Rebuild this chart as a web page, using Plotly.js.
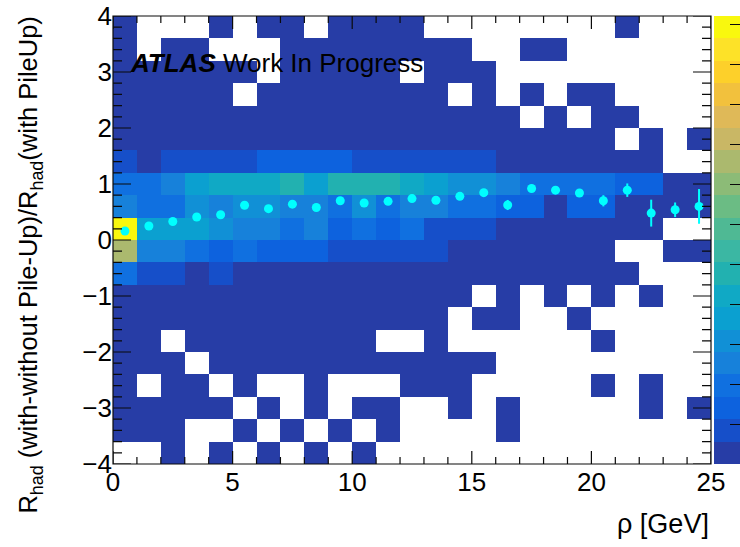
<!DOCTYPE html>
<html>
<head>
<meta charset="utf-8">
<script src="https://cdn.plot.ly/plotly-3.0.1.min.js"></script>
<style>html,body{margin:0;padding:0;background:#fff;}#chart{width:740px;height:547px;}</style>
</head>
<body>
<div id="chart"></div>
<script>
// bin centres
const xCenters = [0.5,1.5,2.5,3.5,4.5,5.5,6.5,7.5,8.5,9.5,10.5,11.5,12.5,13.5,14.5,15.5,16.5,17.5,18.5,19.5,20.5,21.5,22.5,23.5,24.5];
const yCenters = [3.8,3.4,3.0,2.6,2.2,1.8,1.4,1.0,0.6,0.2,-0.2,-0.6,-1.0,-1.4,-1.8,-2.2,-2.6,-3.0,-3.4,-3.8];
const n = null;
// counts per cell, rows from top (y=3.8) to bottom (y=-3.8), columns rho = 0..25
const counts = [
  [1,n,n,n,1,n,1,1,n,1,1,1,1,n,n,n,n,n,n,n,n,1,n,n,n],
  [1,n,1,1,n,n,n,1,1,1,1,1,1,1,1,n,n,1,1,n,n,n,n,n,n],
  [1,1,1,1,1,1,n,1,1,1,1,1,n,1,1,1,n,n,n,n,n,n,n,n,n],
  [1,1,1,1,1,n,1,1,1,1,1,1,1,1,n,1,n,1,n,1,1,n,n,n,n],
  [1,1,1,1,1,1,1,1,1,1,1,1,1,1,1,1,1,n,1,n,1,1,n,n,n],
  [1,1,1,1,1,1,1,1,1,1,1,1,1,1,1,1,1,1,1,1,1,n,1,n,1],
  [4,1,4,4,4,4,7,7,7,7,4,4,4,4,4,4,1,1,1,1,1,1,1,n,n],
  [10,10,13,18,21,21,21,24,18,24,24,24,21,18,15,15,13,10,10,10,10,7,7,1,1],
  [13,10,10,15,13,15,15,13,13,10,15,10,13,13,10,10,7,7,1,7,7,1,1,1,1],
  [56,18,18,18,15,13,13,10,13,7,10,7,10,4,4,4,1,1,1,1,1,1,1,n,n],
  [38,13,13,10,7,10,7,7,7,4,4,4,4,4,1,1,1,1,1,1,1,n,n,1,1],
  [10,4,4,1,4,1,1,1,1,1,1,1,1,1,1,1,1,1,1,1,1,1,n,n,n],
  [1,1,1,1,1,1,1,1,1,1,1,1,1,1,1,n,1,n,1,n,1,n,1,n,n],
  [1,1,1,1,1,1,1,1,1,1,1,1,1,1,n,1,1,n,n,1,n,n,n,n,n],
  [1,1,n,1,1,1,1,1,1,1,1,n,n,1,n,n,n,n,n,n,1,n,n,n,n],
  [1,1,1,n,1,1,1,1,1,1,1,1,1,1,1,1,n,n,n,n,n,n,n,n,n],
  [1,n,1,1,n,1,n,n,1,n,n,n,1,1,1,n,n,n,n,n,1,n,1,n,n],
  [1,1,1,1,1,n,1,n,1,n,1,1,n,n,1,n,1,n,n,n,n,n,1,n,1],
  [1,1,1,n,n,1,n,1,n,1,n,1,n,n,n,n,1,n,n,n,n,n,n,n,n],
  [n,n,1,n,1,n,1,n,1,n,1,n,n,n,n,n,n,n,n,n,n,n,n,n,n]
];
// profile (mean per rho bin)
const profX = xCenters;
const profY = [0.16,0.25,0.33,0.41,0.45,0.62,0.56,0.64,0.58,0.70,0.66,0.69,0.74,0.71,0.78,0.845,0.625,0.92,0.89,0.84,0.70,0.89,0.48,0.54,0.60];
const profErr = [0.02,0.02,0.02,0.02,0.02,0.02,0.02,0.02,0.02,0.02,0.02,0.02,0.02,0.03,0.03,0.03,0.09,0.04,0.04,0.04,0.1,0.12,0.24,0.13,0.31];

const bandColors = ['#273da6','#164fc9','#0d62de','#1070e0','#1781da','#1190d6','#0ba0d0','#10a9c5','#22b1b0','#3bb7a3','#4fb994','#6bbc84','#8cbb77','#abb96e','#c9b765','#dfb958','#f2c13d','#fdd02a','#fde228','#f9f80e'];
const colorscale = [];
bandColors.forEach((c, i) => {
  colorscale.push([i / bandColors.length, c]);
  colorscale.push([(i + 1) / bandColors.length, c]);
});

const FONT = 'Liberation Sans, Arial, Helvetica, sans-serif';
const X_RANGE = [0, 25];
const Y_RANGE = [-4, 4];
const MARGIN = {l: 113, r: 29, t: 16, b: 83};
const PLOT_W = 740 - MARGIN.l - MARGIN.r;
const PLOT_H = 547 - MARGIN.t - MARGIN.b;
const FRAME = '#0a0a0a';

// axis frame and ROOT-style inside ticks on all four sides: three path shapes built from the axis ranges
function frameAndTicks() {
  let xp = '';
  for (let k = X_RANGE[0]; k <= X_RANGE[1]; k++) {
    const len = ((k % 5 === 0) ? 13 : 7) / PLOT_H;
    xp += `M${k},0L${k},${len}M${k},1L${k},${1 - len}`;
  }
  let yp = '';
  for (let k = 0; k <= 40; k++) {
    const v = +(Y_RANGE[0] + k * 0.2).toFixed(2);
    const len = ((k % 5 === 0) ? 18 : 9) / PLOT_W;
    yp += `M0,${v}L${len},${v}M1,${v}L${1 - len},${v}`;
  }
  return [
    {type: 'rect', xref: 'paper', yref: 'paper', x0: 0, x1: 1, y0: 0, y1: 1,
     line: {color: FRAME, width: 1.2}},
    {type: 'path', xref: 'x', yref: 'paper', path: xp, line: {color: FRAME, width: 1.2}},
    {type: 'path', xref: 'paper', yref: 'y', path: yp, line: {color: FRAME, width: 1.2}}
  ];
}

const heat = {
  type: 'heatmap', x: xCenters, y: yCenters, z: counts,
  zmin: 0, zmax: 56, colorscale: colorscale, zsmooth: false, hoverongaps: false,
  colorbar: {
    x: 1.005, xanchor: 'left', xpad: 0, y: 0.5, yanchor: 'middle', ypad: 0,
    len: 1, lenmode: 'fraction', thickness: 27, thicknessmode: 'pixels', outlinewidth: 0,
    tickmode: 'linear', tick0: 0, dtick: 5,
    ticks: 'inside', ticklen: 11, tickcolor: FRAME, tickwidth: 1, showticklabels: false
  }
};

const prof = {
  type: 'scatter', mode: 'markers', x: profX, y: profY,
  marker: {color: '#00ffff', size: 9, symbol: 'circle'},
  error_y: {type: 'data', array: profErr, visible: true, color: '#00ffff', thickness: 2, width: 0},
  showlegend: false
};

const layout = {
  width: 740, height: 547,
  margin: Object.assign({autoexpand: false}, MARGIN),
  paper_bgcolor: '#ffffff', plot_bgcolor: '#ffffff',
  font: {family: FONT, size: 26, color: '#000'},
  showlegend: false,
  xaxis: {
    range: X_RANGE, tickmode: 'linear', tick0: 0, dtick: 5,
    ticks: '', showline: false, showgrid: false, zeroline: false,
    tickfont: {family: FONT, size: 26}
  },
  yaxis: {
    range: Y_RANGE, tickmode: 'linear', tick0: 0, dtick: 1,
    ticks: '', showline: false, showgrid: false, zeroline: false,
    tickfont: {family: FONT, size: 26}
  },
  shapes: frameAndTicks(),
  annotations: [
    {text: '<b><i>ATLAS</i></b> Work In Progress', xref: 'paper', yref: 'paper',
     x: 15/598, y: 0.895, xanchor: 'left', yanchor: 'middle', showarrow: false,
     font: {family: FONT, size: 26, color: '#000'}},
    {text: 'ρ [GeV]', xref: 'paper', yref: 'paper', x: 1, y: -0.134,
     xanchor: 'right', yanchor: 'middle', showarrow: false,
     font: {family: FONT, size: 27, color: '#000'}},
    {text: 'R<sub>had</sub> (with-without Pile-Up)/R<sub>had</sub>(with PileUp)', xref: 'paper', yref: 'paper',
     x: -0.139, y: 1.004, xanchor: 'center', yanchor: 'top', textangle: -90, showarrow: false,
     font: {family: FONT, size: 25.5, color: '#000'}}
  ]
};

Plotly.newPlot('chart', [heat, prof], layout, {displayModeBar: false});
</script>
</body>
</html>
